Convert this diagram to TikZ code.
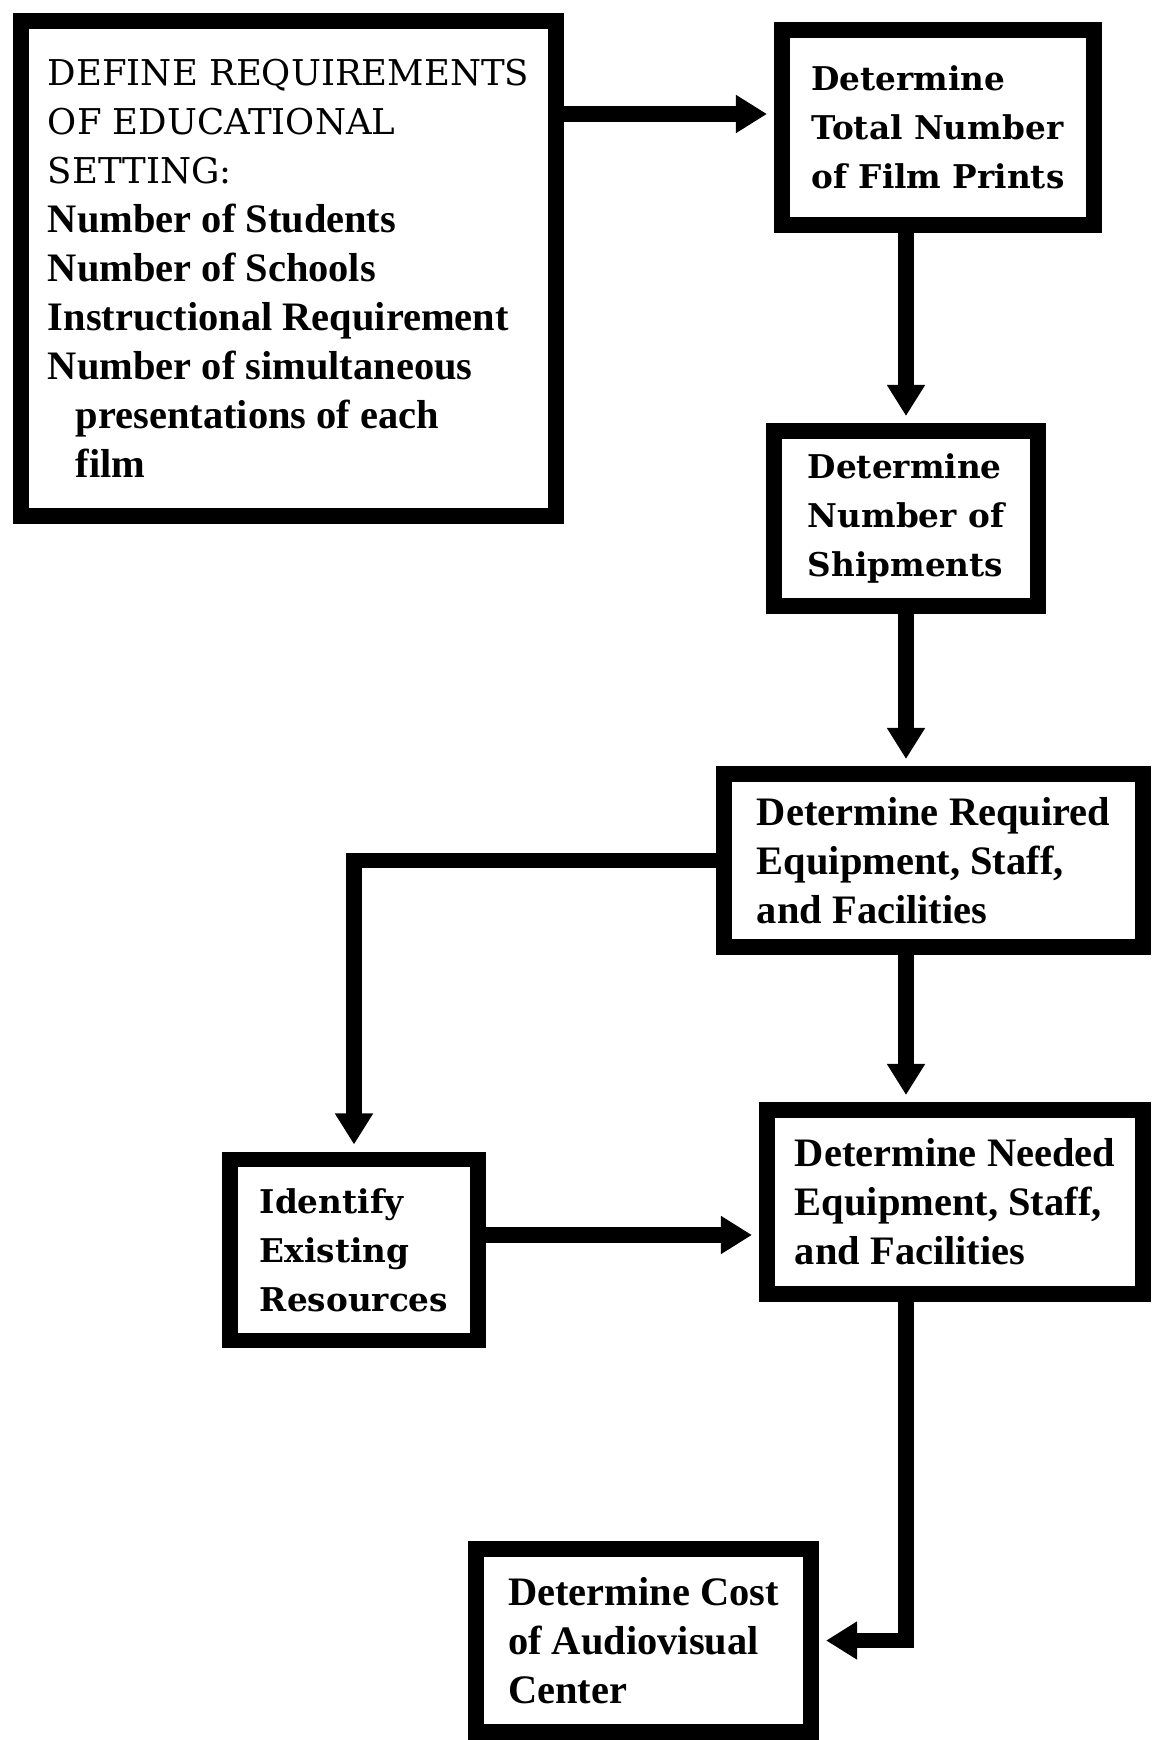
\documentclass[tikz,border=0pt]{standalone}
\usepackage{fontspec}
\setmainfont{DejaVu Serif}
\newfontfamily\narrowfont{Liberation Serif}
\usetikzlibrary{positioning,arrows.meta}

\tikzset{
  stepbox/.style={draw,line width=4.5pt,align=left,inner sep=0pt},
  widetext/.style={font=\bfseries\fontsize{9.3}{13.94}\selectfont},
  narrowtext/.style={font=\narrowfont\bfseries\fontsize{11.5}{13.94}\selectfont},
  flow/.style={line width=4.5pt,-{Triangle[length=0.31cm,width=0.36cm]},shorten >=2pt}
}
\newcommand{\listfont}{\narrowfont\bfseries\fontsize{11.5}{13.94}\selectfont}

\begin{document}
\begin{tikzpicture}[x=0.01cm,y=-0.01cm]
    \useasboundingbox (0,0) rectangle (1151,1740);

    \node[stepbox,font=\fontsize{10.1}{13.94}\selectfont,minimum width=5.35cm,minimum height=4.95cm] (define) at (288.5,268.5) {DEFINE REQUIREMENTS\\ OF EDUCATIONAL\\ SETTING:\\ \listfont Number of Students\\ \listfont Number of Schools\\ \listfont Instructional Requirement\\ \listfont Number of simultaneous\\ \listfont\hspace*{0.28cm}presentations of each\\ \listfont\hspace*{0.28cm}film};
    \node[stepbox,widetext,minimum width=3.12cm,minimum height=1.95cm] (prints) at (938,127.5) {Determine\\ Total Number\\ of Film Prints};
    \node[stepbox,widetext,minimum width=2.64cm,minimum height=1.75cm] (shipments) at (906,518.5) {Determine\\ Number of\\ Shipments};
    \node[stepbox,narrowtext,minimum width=4.19cm,minimum height=1.73cm] (required) at (933.5,860.5) {Determine Required\\ Equipment, Staff,\\ and Facilities};
    \node[stepbox,narrowtext,minimum width=3.76cm,minimum height=1.84cm] (needed) at (955,1202) {Determine Needed\\ Equipment, Staff,\\ and Facilities};
    \node[stepbox,widetext,minimum width=2.48cm,minimum height=1.81cm] (existing) at (354,1250) {Identify\\ Existing\\ Resources};
    \node[stepbox,narrowtext,minimum width=3.35cm,minimum height=1.83cm] (cost) at (643.5,1640.5) {Determine Cost\\ of Audiovisual\\ Center};

    \draw[flow] (define.east |- 0,114) -- (prints.west |- 0,114);
    \draw[flow] (prints.south -| shipments.north) -- (shipments.north);
    \draw[flow] (shipments.south) -- (required.north -| shipments.south);
    \draw[flow] (required.south -| shipments.south) -- (needed.north -| shipments.south);
    \draw[flow] (required.west) -| (existing.north);
    \draw[flow] (existing.east |- 0,1235) -- (needed.west |- 0,1235);
    \draw[flow] (needed.south -| shipments.south) |- (cost.east);
\end{tikzpicture}
\end{document}
